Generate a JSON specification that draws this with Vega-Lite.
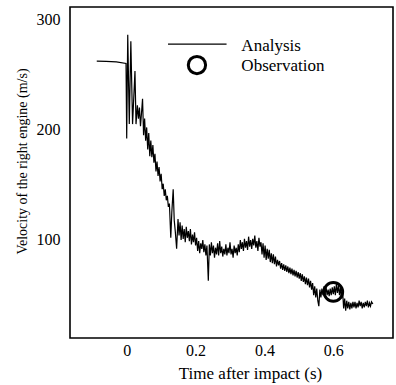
{
  "$schema": "https://vega.github.io/schema/vega-lite/v6.json",
  "width": 323,
  "height": 331,
  "autosize": {"type": "none"},
  "padding": {"left": 70, "top": 7, "right": 3, "bottom": 47},
  "config": {
    "view": {"stroke": "#000", "strokeWidth": 1.6}
  },
  "data": {"values": [
      {"series": "analysis", "t": -0.087, "v": 262}, {"series": "analysis", "t": -0.06, "v": 261.8}, {"series": "analysis", "t": -0.03, "v": 261.3}, {"series": "analysis", "t": -0.002, "v": 260},
      {"series": "analysis", "t": 0.0, "v": 192}, {"series": "analysis", "t": 0.003, "v": 286}, {"series": "analysis", "t": 0.0075, "v": 205}, {"series": "analysis", "t": 0.012, "v": 280}, {"series": "analysis", "t": 0.017, "v": 205},
      {"series": "analysis", "t": 0.024, "v": 253}, {"series": "analysis", "t": 0.027, "v": 205}, {"series": "analysis", "t": 0.031, "v": 222}, {"series": "analysis", "t": 0.034, "v": 210}, {"series": "analysis", "t": 0.037, "v": 220},
      {"series": "analysis", "t": 0.040, "v": 203}, {"series": "analysis", "t": 0.043, "v": 215}, {"series": "analysis", "t": 0.046, "v": 228}, {"series": "analysis", "t": 0.049, "v": 195}, {"series": "analysis", "t": 0.052, "v": 210},
      {"series": "analysis", "t": 0.055, "v": 190}, {"series": "analysis", "t": 0.058, "v": 202}, {"series": "analysis", "t": 0.061, "v": 182}, {"series": "analysis", "t": 0.064, "v": 197}, {"series": "analysis", "t": 0.067, "v": 176},
      {"series": "analysis", "t": 0.070, "v": 190}, {"series": "analysis", "t": 0.073, "v": 175}, {"series": "analysis", "t": 0.076, "v": 186}, {"series": "analysis", "t": 0.079, "v": 170}, {"series": "analysis", "t": 0.082, "v": 178},
      {"series": "analysis", "t": 0.085, "v": 162}, {"series": "analysis", "t": 0.088, "v": 171}, {"series": "analysis", "t": 0.091, "v": 158}, {"series": "analysis", "t": 0.094, "v": 166}, {"series": "analysis", "t": 0.097, "v": 153},
      {"series": "analysis", "t": 0.100, "v": 160}, {"series": "analysis", "t": 0.103, "v": 146}, {"series": "analysis", "t": 0.106, "v": 151}, {"series": "analysis", "t": 0.109, "v": 140}, {"series": "analysis", "t": 0.112, "v": 146},
      {"series": "analysis", "t": 0.115, "v": 136}, {"series": "analysis", "t": 0.118, "v": 140}, {"series": "analysis", "t": 0.121, "v": 130}, {"series": "analysis", "t": 0.124, "v": 133}, {"series": "analysis", "t": 0.128, "v": 102},
      {"series": "analysis", "t": 0.131, "v": 125}, {"series": "analysis", "t": 0.135, "v": 146}, {"series": "analysis", "t": 0.138, "v": 118}, {"series": "analysis", "t": 0.141, "v": 108}, {"series": "analysis", "t": 0.145, "v": 92},
      {"series": "analysis", "t": 0.149, "v": 119}, {"series": "analysis", "t": 0.152, "v": 104}, {"series": "analysis", "t": 0.155, "v": 116}, {"series": "analysis", "t": 0.158, "v": 100}, {"series": "analysis", "t": 0.161, "v": 113},
      {"series": "analysis", "t": 0.164, "v": 101}, {"series": "analysis", "t": 0.167, "v": 110}, {"series": "analysis", "t": 0.170, "v": 98}, {"series": "analysis", "t": 0.173, "v": 112}, {"series": "analysis", "t": 0.176, "v": 102},
      {"series": "analysis", "t": 0.179, "v": 108}, {"series": "analysis", "t": 0.182, "v": 99}, {"series": "analysis", "t": 0.185, "v": 110}, {"series": "analysis", "t": 0.188, "v": 96}, {"series": "analysis", "t": 0.191, "v": 105},
      {"series": "analysis", "t": 0.194, "v": 98}, {"series": "analysis", "t": 0.197, "v": 107}, {"series": "analysis", "t": 0.200, "v": 95}, {"series": "analysis", "t": 0.203, "v": 102}, {"series": "analysis", "t": 0.206, "v": 90},
      {"series": "analysis", "t": 0.209, "v": 99}, {"series": "analysis", "t": 0.212, "v": 88}, {"series": "analysis", "t": 0.215, "v": 97}, {"series": "analysis", "t": 0.218, "v": 92}, {"series": "analysis", "t": 0.221, "v": 100},
      {"series": "analysis", "t": 0.224, "v": 89}, {"series": "analysis", "t": 0.227, "v": 96}, {"series": "analysis", "t": 0.230, "v": 86}, {"series": "analysis", "t": 0.233, "v": 95}, {"series": "analysis", "t": 0.237, "v": 63},
      {"series": "analysis", "t": 0.240, "v": 96}, {"series": "analysis", "t": 0.243, "v": 86}, {"series": "analysis", "t": 0.246, "v": 98}, {"series": "analysis", "t": 0.249, "v": 88}, {"series": "analysis", "t": 0.252, "v": 95},
      {"series": "analysis", "t": 0.255, "v": 84}, {"series": "analysis", "t": 0.258, "v": 93}, {"series": "analysis", "t": 0.261, "v": 87}, {"series": "analysis", "t": 0.264, "v": 97}, {"series": "analysis", "t": 0.267, "v": 86},
      {"series": "analysis", "t": 0.270, "v": 99}, {"series": "analysis", "t": 0.273, "v": 88}, {"series": "analysis", "t": 0.276, "v": 94}, {"series": "analysis", "t": 0.279, "v": 85}, {"series": "analysis", "t": 0.282, "v": 92},
      {"series": "analysis", "t": 0.285, "v": 87}, {"series": "analysis", "t": 0.288, "v": 96}, {"series": "analysis", "t": 0.291, "v": 86}, {"series": "analysis", "t": 0.294, "v": 93}, {"series": "analysis", "t": 0.297, "v": 88},
      {"series": "analysis", "t": 0.300, "v": 98}, {"series": "analysis", "t": 0.303, "v": 87}, {"series": "analysis", "t": 0.306, "v": 92}, {"series": "analysis", "t": 0.309, "v": 84}, {"series": "analysis", "t": 0.312, "v": 95},
      {"series": "analysis", "t": 0.315, "v": 88}, {"series": "analysis", "t": 0.318, "v": 93}, {"series": "analysis", "t": 0.321, "v": 86}, {"series": "analysis", "t": 0.324, "v": 96}, {"series": "analysis", "t": 0.327, "v": 89},
      {"series": "analysis", "t": 0.330, "v": 100}, {"series": "analysis", "t": 0.333, "v": 92}, {"series": "analysis", "t": 0.336, "v": 98}, {"series": "analysis", "t": 0.339, "v": 90}, {"series": "analysis", "t": 0.342, "v": 101},
      {"series": "analysis", "t": 0.345, "v": 93}, {"series": "analysis", "t": 0.348, "v": 99}, {"series": "analysis", "t": 0.351, "v": 91}, {"series": "analysis", "t": 0.354, "v": 103}, {"series": "analysis", "t": 0.357, "v": 94},
      {"series": "analysis", "t": 0.360, "v": 100}, {"series": "analysis", "t": 0.363, "v": 92}, {"series": "analysis", "t": 0.366, "v": 101}, {"series": "analysis", "t": 0.369, "v": 95}, {"series": "analysis", "t": 0.372, "v": 104},
      {"series": "analysis", "t": 0.375, "v": 93}, {"series": "analysis", "t": 0.378, "v": 99}, {"series": "analysis", "t": 0.381, "v": 90}, {"series": "analysis", "t": 0.384, "v": 102}, {"series": "analysis", "t": 0.387, "v": 94},
      {"series": "analysis", "t": 0.390, "v": 98}, {"series": "analysis", "t": 0.393, "v": 87}, {"series": "analysis", "t": 0.396, "v": 97}, {"series": "analysis", "t": 0.399, "v": 84}, {"series": "analysis", "t": 0.402, "v": 95},
      {"series": "analysis", "t": 0.405, "v": 82}, {"series": "analysis", "t": 0.408, "v": 92}, {"series": "analysis", "t": 0.411, "v": 83}, {"series": "analysis", "t": 0.414, "v": 91}, {"series": "analysis", "t": 0.417, "v": 80},
      {"series": "analysis", "t": 0.420, "v": 88}, {"series": "analysis", "t": 0.423, "v": 79}, {"series": "analysis", "t": 0.426, "v": 87}, {"series": "analysis", "t": 0.429, "v": 78}, {"series": "analysis", "t": 0.432, "v": 85},
      {"series": "analysis", "t": 0.435, "v": 76}, {"series": "analysis", "t": 0.438, "v": 82}, {"series": "analysis", "t": 0.441, "v": 77}, {"series": "analysis", "t": 0.444, "v": 81}, {"series": "analysis", "t": 0.447, "v": 74},
      {"series": "analysis", "t": 0.450, "v": 79}, {"series": "analysis", "t": 0.453, "v": 73}, {"series": "analysis", "t": 0.456, "v": 78}, {"series": "analysis", "t": 0.459, "v": 72}, {"series": "analysis", "t": 0.462, "v": 77},
      {"series": "analysis", "t": 0.465, "v": 71}, {"series": "analysis", "t": 0.468, "v": 76}, {"series": "analysis", "t": 0.471, "v": 70}, {"series": "analysis", "t": 0.474, "v": 75}, {"series": "analysis", "t": 0.477, "v": 69},
      {"series": "analysis", "t": 0.480, "v": 74}, {"series": "analysis", "t": 0.483, "v": 68}, {"series": "analysis", "t": 0.486, "v": 73}, {"series": "analysis", "t": 0.489, "v": 67}, {"series": "analysis", "t": 0.492, "v": 72},
      {"series": "analysis", "t": 0.495, "v": 66}, {"series": "analysis", "t": 0.498, "v": 71}, {"series": "analysis", "t": 0.501, "v": 65}, {"series": "analysis", "t": 0.504, "v": 70}, {"series": "analysis", "t": 0.507, "v": 63},
      {"series": "analysis", "t": 0.510, "v": 69}, {"series": "analysis", "t": 0.513, "v": 62}, {"series": "analysis", "t": 0.516, "v": 67}, {"series": "analysis", "t": 0.519, "v": 60}, {"series": "analysis", "t": 0.522, "v": 66},
      {"series": "analysis", "t": 0.525, "v": 59}, {"series": "analysis", "t": 0.528, "v": 65}, {"series": "analysis", "t": 0.531, "v": 57}, {"series": "analysis", "t": 0.534, "v": 63}, {"series": "analysis", "t": 0.537, "v": 55},
      {"series": "analysis", "t": 0.540, "v": 61}, {"series": "analysis", "t": 0.543, "v": 50}, {"series": "analysis", "t": 0.546, "v": 58}, {"series": "analysis", "t": 0.549, "v": 48}, {"series": "analysis", "t": 0.552, "v": 56},
      {"series": "analysis", "t": 0.555, "v": 45}, {"series": "analysis", "t": 0.558, "v": 40}, {"series": "analysis", "t": 0.561, "v": 55}, {"series": "analysis", "t": 0.564, "v": 48}, {"series": "analysis", "t": 0.567, "v": 56},
      {"series": "analysis", "t": 0.570, "v": 50}, {"series": "analysis", "t": 0.573, "v": 58}, {"series": "analysis", "t": 0.576, "v": 51}, {"series": "analysis", "t": 0.579, "v": 57}, {"series": "analysis", "t": 0.582, "v": 50},
      {"series": "analysis", "t": 0.585, "v": 55}, {"series": "analysis", "t": 0.588, "v": 49}, {"series": "analysis", "t": 0.591, "v": 56}, {"series": "analysis", "t": 0.594, "v": 50}, {"series": "analysis", "t": 0.597, "v": 57},
      {"series": "analysis", "t": 0.600, "v": 51}, {"series": "analysis", "t": 0.603, "v": 58}, {"series": "analysis", "t": 0.606, "v": 50}, {"series": "analysis", "t": 0.609, "v": 60}, {"series": "analysis", "t": 0.612, "v": 52},
      {"series": "analysis", "t": 0.615, "v": 59}, {"series": "analysis", "t": 0.618, "v": 50}, {"series": "analysis", "t": 0.621, "v": 57}, {"series": "analysis", "t": 0.624, "v": 47}, {"series": "analysis", "t": 0.627, "v": 54},
      {"series": "analysis", "t": 0.630, "v": 38}, {"series": "analysis", "t": 0.633, "v": 47}, {"series": "analysis", "t": 0.636, "v": 36}, {"series": "analysis", "t": 0.639, "v": 45}, {"series": "analysis", "t": 0.642, "v": 38},
      {"series": "analysis", "t": 0.645, "v": 44}, {"series": "analysis", "t": 0.648, "v": 37}, {"series": "analysis", "t": 0.651, "v": 43}, {"series": "analysis", "t": 0.654, "v": 38}, {"series": "analysis", "t": 0.657, "v": 44},
      {"series": "analysis", "t": 0.660, "v": 39}, {"series": "analysis", "t": 0.663, "v": 44}, {"series": "analysis", "t": 0.666, "v": 38}, {"series": "analysis", "t": 0.669, "v": 43}, {"series": "analysis", "t": 0.672, "v": 39},
      {"series": "analysis", "t": 0.675, "v": 45}, {"series": "analysis", "t": 0.678, "v": 40}, {"series": "analysis", "t": 0.681, "v": 44}, {"series": "analysis", "t": 0.684, "v": 38}, {"series": "analysis", "t": 0.687, "v": 43},
      {"series": "analysis", "t": 0.690, "v": 39}, {"series": "analysis", "t": 0.693, "v": 44}, {"series": "analysis", "t": 0.696, "v": 40}, {"series": "analysis", "t": 0.699, "v": 45}, {"series": "analysis", "t": 0.702, "v": 39},
      {"series": "analysis", "t": 0.705, "v": 43}, {"series": "analysis", "t": 0.708, "v": 40}, {"series": "analysis", "t": 0.711, "v": 44}, {"series": "analysis", "t": 0.715, "v": 42},
      {"series": "obs", "t": 0.6, "v": 53, "s": 350}, {"series": "obs", "t": 0.204, "v": 258.5, "s": 300},
      {"series": "legline", "t": 0.12, "t2": 0.29, "v": 277.5},
      {"series": "legtext", "t": 0.333, "v": 275.5, "label": "Analysis"}, {"series": "legtext", "t": 0.333, "v": 257.5, "label": "Observation"},
      {"series": "xtick", "t": -0.1, "kind": "minor"}, {"series": "xtick", "t": 0, "kind": "major"}, {"series": "xtick", "t": 0.1, "kind": "minor"},
      {"series": "xtick", "t": 0.2, "kind": "major"}, {"series": "xtick", "t": 0.3, "kind": "minor"}, {"series": "xtick", "t": 0.4, "kind": "major"},
      {"series": "xtick", "t": 0.5, "kind": "minor"}, {"series": "xtick", "t": 0.6, "kind": "major"}, {"series": "xtick", "t": 0.7, "kind": "minor"},
      {"series": "ytick", "v": 50, "kind": "minor"}, {"series": "ytick", "v": 100, "kind": "major"}, {"series": "ytick", "v": 150, "kind": "minor"},
      {"series": "ytick", "v": 200, "kind": "major"}, {"series": "ytick", "v": 250, "kind": "minor"}, {"series": "ytick", "v": 300, "kind": "major"}
  ]},
  "encoding": {
    "x": {"field": "t", "type": "quantitative", "scale": {"domain": [-0.1647, 0.7734], "nice": false, "zero": false},
          "axis": {"orient": "bottom", "values": [0, 0.2, 0.4, 0.6], "format": "~g",
                   "domain": false, "ticks": false, "grid": false,
                   "labelFont": "Liberation Serif", "labelFontSize": 16, "labelColor": "black", "labelPadding": 4, "labelBaseline": "top",
                   "title": "Time after impact (s)", "titleFont": "Liberation Serif", "titleFontSize": 17, "titleFontWeight": "normal", "titleColor": "black",
                   "titleX": 180, "titleY": 40, "titleBaseline": "alphabetic", "titleAlign": "center"}},
    "y": {"field": "v", "type": "quantitative", "scale": {"domain": [11.2, 311.1], "nice": false, "zero": false},
          "axis": {"orient": "left", "values": [100, 200, 300],
                   "domain": false, "ticks": false, "grid": false,
                   "labelFont": "Liberation Serif", "labelFontSize": 16, "labelColor": "black", "labelPadding": 10,
                   "title": "Velocity of the right engine (m/s)", "titleFont": "Liberation Serif", "titleFontSize": 14, "titleFontWeight": "normal", "titleColor": "black",
                   "titleAngle": 270, "titleX": -48, "titleY": 154, "titleBaseline": "middle", "titleAlign": "center"}}
  },
  "layer": [
    {
      "transform": [{"filter": {"field": "series", "equal": "analysis"}}],
      "mark": {"type": "line", "color": "#000", "strokeWidth": 1.2},
      "encoding": {}
    },
    {
      "transform": [{"filter": {"field": "series", "equal": "obs"}}],
      "mark": {"type": "point", "shape": "circle", "filled": false, "color": "#000", "strokeWidth": 3, "opacity": 1},
      "encoding": {
        "size": {"field": "s", "type": "quantitative", "scale": null, "legend": null}
      }
    },
    {
      "transform": [{"filter": {"field": "series", "equal": "legline"}}],
      "mark": {"type": "rule", "color": "#000", "strokeWidth": 1.2},
      "encoding": {
        "x2": {"field": "t2"}
      }
    },
    {
      "transform": [{"filter": {"field": "series", "equal": "legtext"}}],
      "mark": {"type": "text", "align": "left", "baseline": "middle", "font": "Liberation Serif", "fontSize": 17, "color": "#000"},
      "encoding": {
        "text": {"field": "label"}
      }
    },
    {
      "transform": [{"filter": {"field": "series", "equal": "xtick"}}],
      "mark": {"type": "tick", "orient": "vertical", "clip": true, "color": "#000", "opacity": 1, "thickness": 1.4},
      "encoding": {
        "y": {"datum": 11.2, "type": "quantitative"},
        "size": {"condition": {"test": "datum.kind == 'major'", "value": 14}, "value": 8}
      }
    },
    {
      "transform": [{"filter": {"field": "series", "equal": "xtick"}}],
      "mark": {"type": "tick", "orient": "vertical", "clip": true, "color": "#000", "opacity": 1, "thickness": 1.4},
      "encoding": {
        "y": {"datum": 311.1, "type": "quantitative"},
        "size": {"condition": {"test": "datum.kind == 'major'", "value": 14}, "value": 8}
      }
    },
    {
      "transform": [{"filter": {"field": "series", "equal": "ytick"}}],
      "mark": {"type": "tick", "orient": "horizontal", "clip": true, "color": "#000", "opacity": 1, "thickness": 1.4},
      "encoding": {
        "x": {"datum": -0.1647, "type": "quantitative"},
        "size": {"condition": {"test": "datum.kind == 'major'", "value": 14}, "value": 8}
      }
    },
    {
      "transform": [{"filter": {"field": "series", "equal": "ytick"}}],
      "mark": {"type": "tick", "orient": "horizontal", "clip": true, "color": "#000", "opacity": 1, "thickness": 1.4},
      "encoding": {
        "x": {"datum": 0.7734, "type": "quantitative"},
        "size": {"condition": {"test": "datum.kind == 'major'", "value": 14}, "value": 8}
      }
    }
  ]
}
